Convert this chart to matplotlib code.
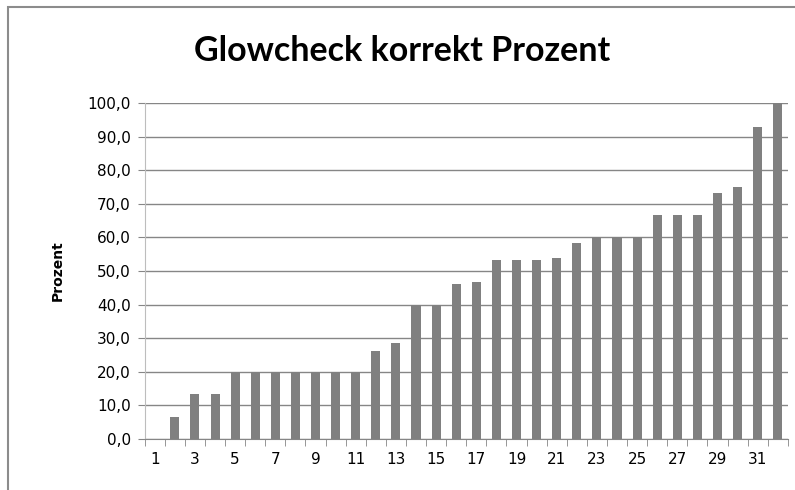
import numpy as np
import matplotlib.pyplot as plt
from matplotlib.patches import Rectangle
from matplotlib.ticker import FuncFormatter

# data
categories = list(range(1, 33))
percent = [
    0.0, 6.7, 13.3, 13.3, 20.0, 20.0, 20.0, 20.0, 20.0, 20.0, 20.0, 26.3,
    28.6, 40.0, 40.0, 46.2, 46.7, 53.3, 53.3, 53.3, 53.8, 58.3, 60.0, 60.0,
    60.0, 66.7, 66.7, 66.7, 73.3, 75.0, 92.9, 100.0,
]
tick_labels = [str(c) if c % 2 == 1 else "" for c in categories]

fig = plt.figure(figsize=(7.95, 4.9), dpi=100)
ax = fig.add_axes([0.182, 0.104, 0.809, 0.686])

# chart frame
fig.patches.append(
    Rectangle((8 / 795, -0.05), 1.2, 1 - 7 / 490 + 0.05,
              transform=fig.transFigure, fill=False,
              edgecolor="#8c8c8c", linewidth=1.5)
)

ax.bar(categories, percent, width=0.45, color="#808080", zorder=3)

ax.set_xlim(0.5, 32.5)
ax.set_ylim(0, 100)
ax.set_yticks(np.arange(0, 101, 10))
ax.yaxis.set_major_formatter(FuncFormatter(lambda v, _: f"{v:.1f}".replace(".", ",")))
ax.grid(axis="y", color="#868686", linewidth=1, zorder=0)

ax.set_xticks(categories)
ax.set_xticklabels(tick_labels)
ax.set_xticks(np.arange(0.5, 33, 1), minor=True)
ax.tick_params(axis="x", which="major", length=0, pad=9, labelsize=11)
ax.tick_params(axis="x", which="minor", length=5, color="#868686")
ax.tick_params(axis="y", length=5, color="#868686", labelsize=11, pad=5)

for side in ("top", "right"):
    ax.spines[side].set_visible(False)
for side in ("left", "bottom"):
    ax.spines[side].set_color("#868686")
ax.spines["left"].set_color("#bdbdbd")

ax.set_ylabel("Prozent", fontsize=10, fontweight="bold", labelpad=16)
fig.text(0.506, 0.895, "Glowcheck korrekt Prozent", ha="center", va="center",
         fontsize=24.5, fontweight="bold", family="Lato")

fig.savefig("out.png", dpi=100)
plt.close(fig)
